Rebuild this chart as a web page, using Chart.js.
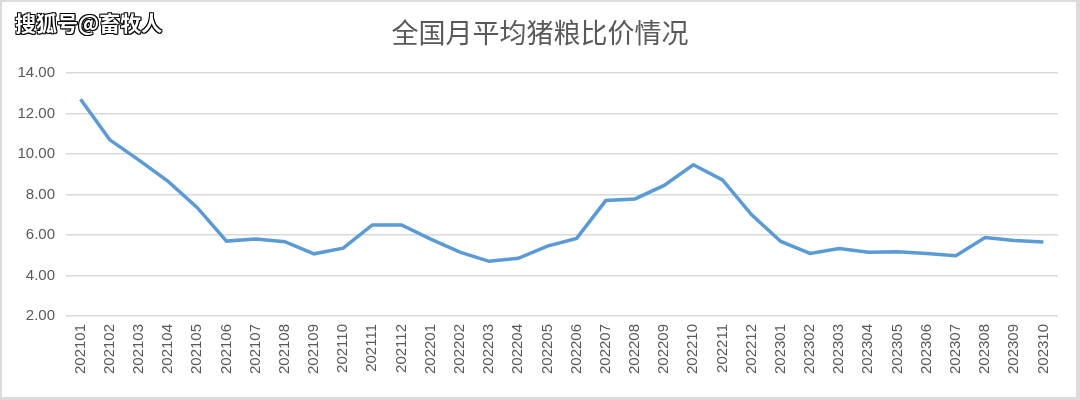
<!DOCTYPE html>
<html>
<head>
<meta charset="utf-8">
<script src="https://cdn.jsdelivr.net/npm/chart.js@4.4.1/dist/chart.umd.min.js"></script>
<style>
  html, body { margin: 0; padding: 0; background: #fff; }
  #wrap { position: relative; width: 1080px; height: 400px; box-sizing: border-box;
          border-top: 2px solid #dcdcdc; border-left: 2px solid #dcdcdc;
          border-right: 4px solid #dcdcdc; border-bottom: 3px solid #dcdcdc; overflow: hidden; }
  #cv { position: absolute; left: -2px; top: -2px; }
  #wm { position: absolute; left: 13px; top: 5px; font-family: "Noto Sans CJK SC", sans-serif;
        font-size: 21px; font-weight: bold; color: #fff;
        text-shadow: -1px -1px 0 #000, 1px -1px 0 #000, -1px 1px 0 #000, 1px 1px 0 #000, 0 1px 0 #000, 1px 0 0 #000; }
</style>
</head>
<body>
<div id="wrap">
  <canvas id="cv" width="1080" height="400"></canvas>
  <div id="wm">搜狐号@畜牧人</div>
</div>
<script>
const titleText = "全国月平均猪粮比价情况";
const months = ["202101","202102","202103","202104","202105","202106","202107","202108","202109","202110","202111","202112",
                "202201","202202","202203","202204","202205","202206","202207","202208","202209","202210","202211","202212",
                "202301","202302","202303","202304","202305","202306","202307","202308","202309","202310"];
const ratio = [12.70, 10.70, 9.70, 8.65, 7.35, 5.70, 5.80, 5.67, 5.07, 5.35, 6.50, 6.50,
               5.80, 5.15, 4.70, 4.85, 5.45, 5.83, 7.70, 7.78, 8.45, 9.47, 8.72, 7.00,
               5.68, 5.09, 5.33, 5.15, 5.17, 5.09, 4.98, 5.87, 5.73, 5.65];
const yTicks = [2, 4, 6, 8, 10, 12, 14];

const centerTitle = {
  id: 'centerTitle',
  afterDraw(chart) {
    const ctx = chart.ctx;
    ctx.save();
    ctx.font = 'normal 27px "Noto Sans CJK SC", sans-serif';
    ctx.fillStyle = '#595959';
    ctx.textAlign = 'center';
    ctx.textBaseline = 'middle';
    ctx.fillText(titleText, chart.width / 2, 33);
    ctx.restore();
  }
};

new Chart(document.getElementById('cv'), {
  type: 'line',
  data: {
    labels: months,
    datasets: [{
      data: ratio,
      borderColor: '#5b9bd5',
      borderWidth: 3.5,
      pointRadius: 0,
      tension: 0,
      fill: false
    }]
  },
  options: {
    responsive: false,
    animation: false,
    devicePixelRatio: 1,
    layout: { padding: { left: 6, right: 22, top: 73, bottom: 0 } },
    plugins: {
      legend: { display: false },
      tooltip: { enabled: false },
      title: { display: false }
    },
    scales: {
      x: {
        offset: true,
        grid: { display: false, drawTicks: false },
        border: { display: false },
        ticks: {
          autoSkip: false, maxRotation: 90, minRotation: 90,
          color: '#595959', padding: 8,
          font: { family: '"Liberation Sans", Arial, sans-serif', size: 15 }
        },
        afterFit: (s) => { s.height = 84; }
      },
      y: {
        min: 2, max: 14,
        afterBuildTicks: (s) => { s.ticks = yTicks.map(v => ({ value: v })); },
        grid: { color: '#d9d9d9', lineWidth: 1.5, drawTicks: false },
        border: { display: false },
        ticks: {
          color: '#595959', padding: 11,
          font: { family: '"Liberation Sans", Arial, sans-serif', size: 15 },
          callback: (v) => Number(v).toFixed(2)
        },
        afterFit: (s) => { s.width = 60; }
      }
    }
  },
  plugins: [centerTitle]
});
</script>
</body>
</html>
